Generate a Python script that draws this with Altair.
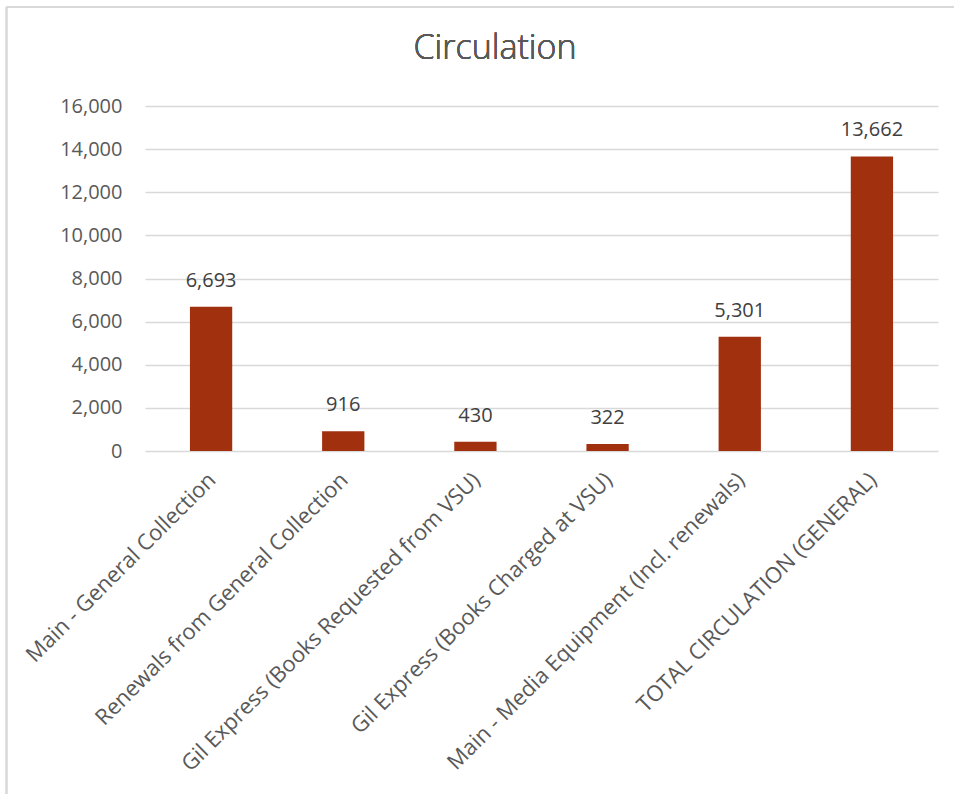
import altair as alt
import pandas as pd

categories = [
    "Main - General Collection",
    "Renewals from General Collection",
    "Gil Express (Books Requested from VSU)",
    "Gil Express (Books Charged at VSU)",
    "Main - Media Equipment (Incl. renewals)",
    "TOTAL CIRCULATION (GENERAL)",
]
values = [6693, 916, 430, 322, 5301, 13662]
y_ticks = [0, 2000, 4000, 6000, 8000, 10000, 12000, 14000, 16000]
chart_title = "Circulation"

df = pd.DataFrame({"category": categories, "value": values})

FONT = "Open Sans"
BAR = "#A1300F"
GRID = "#D9D9D9"
LABEL = "#595959"

PAD_L, PAD_T = 145, 106
W, H = 793, 345

x = alt.X(
    "category:N",
    sort=categories,
    title=None,
    scale=alt.Scale(paddingInner=0.68, paddingOuter=0.34),
    axis=alt.Axis(
        labelAngle=-45,
        labelFont=FONT,
        labelFontSize=22,
        labelColor=LABEL,
        labelPadding=18,
        labelOffset=-6,
        labelLimit=800,
        domain=False,
        ticks=False,
        grid=False,
    ),
)
y = alt.Y(
    "value:Q",
    title=None,
    scale=alt.Scale(domain=[0, 16000]),
    axis=alt.Axis(
        values=y_ticks,
        format=",.0f",
        labelFont=FONT,
        labelFontSize=20,
        labelColor=LABEL,
        labelPadding=23,
        domain=False,
        ticks=False,
        gridColor=GRID,
        gridWidth=1.3,
    ),
)

base = alt.Chart(df)

bars = base.mark_bar(color=BAR).encode(x=x, y=y)

labels = base.mark_text(
    font=FONT, fontSize=20, color="#404040", baseline="middle", dy=-26
).encode(
    x=alt.X("category:N", sort=categories),
    y="value:Q",
    text=alt.Text("value:Q", format=",.0f"),
)

# chart title, set as a text mark above the plot area
title = base.mark_text(
    text=chart_title,
    font=FONT,
    fontSize=34,
    fontWeight=300,
    color=LABEL,
    align="center",
    baseline="middle",
).encode(x=alt.value(495 - PAD_L), y=alt.value(49 - PAD_T))

# outer frame lines of the chart area (left and top edges)
frame_left = base.mark_rule(color=GRID, strokeWidth=1.5).encode(
    x=alt.value(6.5 - PAD_L), y=alt.value(7 - PAD_T), y2=alt.value(794 - PAD_T)
)
frame_top = base.mark_rule(color=GRID, strokeWidth=1.5).encode(
    x=alt.value(6.5 - PAD_L), x2=alt.value(954 - PAD_L), y=alt.value(7 - PAD_T)
)

chart = (
    alt.layer(bars, labels, title, frame_left, frame_top)
    .properties(
        width=W,
        height=H,
        padding={"left": PAD_L, "top": PAD_T, "right": 954 - PAD_L - W, "bottom": 794 - PAD_T - H},
        autosize=alt.AutoSizeParams(type="none"),
        view=alt.ViewBackground(stroke="transparent", strokeOpacity=0),
    )
    .configure_view(strokeWidth=0, strokeOpacity=0, stroke="transparent")
    .configure(background="white")
)

chart.save("out.html", embed_options={"renderer": "svg", "actions": False})
